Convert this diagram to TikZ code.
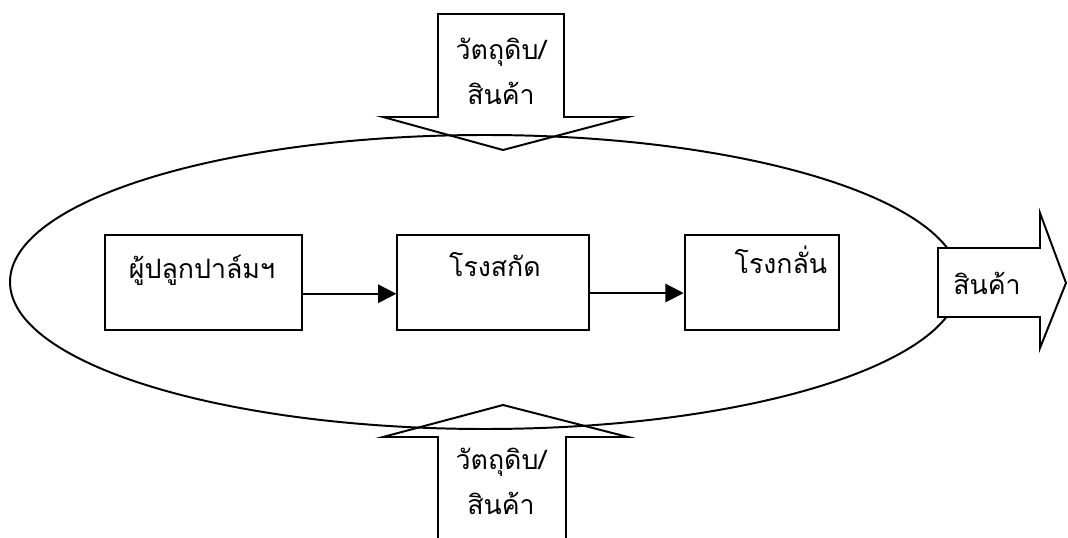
\documentclass[tikz,border=0pt]{standalone}
\usepackage{fontspec}
\newfontfamily\thaifont[Script=Thai]{Loma}
\usetikzlibrary{arrows.meta}
\tikzset{
        % Thai labels
        thaitext/.style={font=\thaifont\fontsize{19}{32}\selectfont, align=center, inner sep=0pt},
        % Supply chain stages
        stagebox/.style={rectangle, draw=black, line width=1.4pt, fill=white, minimum height=67.3pt},
        % Block arrows for inputs and outputs
        blockarrow/.style={draw=black, line width=1.4pt, line join=miter},
        % Flow between stages
        flowarrow/.style={line width=1.4pt, -{Triangle[length=13pt, width=13pt]}}
}
\begin{document}
\begin{tikzpicture}[x=0.025cm, y=-0.025cm]
        \useasboundingbox (0,0) rectangle (1068,538);
        % Inputs from outside
        \draw[blockarrow] (438,14) -- (564,14) -- (564,117) -- (628,117) -- (503,150)
                -- (383,117) -- (438,117) -- cycle;
        \node[thaitext] (topin) at (501,71) {วัตถุดิบ/\\สินค้า};
        \draw[blockarrow] (438,545) -- (438,437) -- (383,437) -- (503,405) -- (628,437)
                -- (566,437) -- (566,545);
        \node[thaitext] (bottomin) at (501,481) {วัตถุดิบ/\\สินค้า};
        % Chain boundary
        \draw[line width=1.4pt] (485,282) ellipse [x radius=475, y radius=147];
        % Output
        \draw[blockarrow, fill=white] (938,248) -- (1040,248) -- (1040,213) -- (1066,283)
                -- (1040,348) -- (1040,317) -- (938,317) -- cycle;
        \node[thaitext] (out) at (987,283) {สินค้า};
        % Stages
        \node[stagebox, minimum width=139.7pt] (grower) at (203.5,282.5) {};
        \node[stagebox, minimum width=136pt] (mill) at (493,282.5) {};
        \node[stagebox, minimum width=110pt] (refinery) at (762,282.5) {};
        \node[thaitext] (growertext) at (202,270) {ผู้ปลูกปาล์มฯ};
        \node[thaitext] (milltext) at (495,265) {โรงสกัด};
        \node[thaitext] (refinerytext) at (781,260) {โรงกลั่น};
        \draw[flowarrow] ([yshift=-8pt]grower.east) -- ([yshift=-8pt]mill.west);
        \draw[flowarrow] ([yshift=-7.5pt]mill.east) -- ([yshift=-7.5pt]refinery.west);
\end{tikzpicture}
\end{document}
